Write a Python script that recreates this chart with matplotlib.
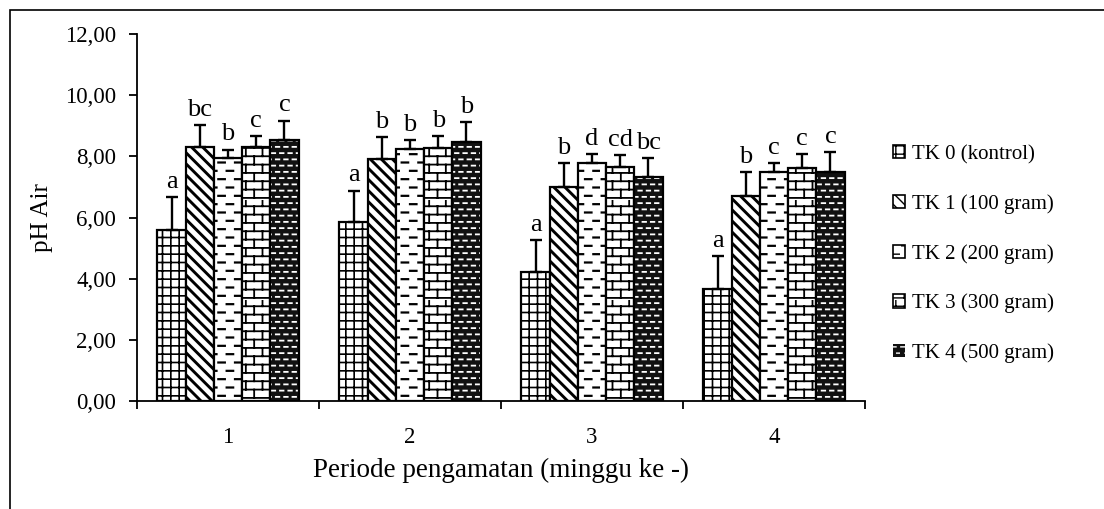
import numpy as np
import matplotlib
matplotlib.use("Agg")
import matplotlib.pyplot as plt
import matplotlib.hatch as mhatch
from matplotlib.path import Path
from matplotlib.patches import Rectangle, Patch

# ---------------- data ----------------
weeks = ["1", "2", "3", "4"]
series_names = ["TK 0 (kontrol)", "TK 1 (100 gram)", "TK 2 (200 gram)",
                "TK 3 (300 gram)", "TK 4 (500 gram)"]
tk0 = [5.60, 5.84, 4.23, 3.67]
tk1 = [8.31, 7.90, 7.01, 6.71]
tk2 = [7.95, 8.23, 7.77, 7.49]
tk3 = [8.32, 8.28, 7.65, 7.62]
tk4 = [8.52, 8.46, 7.31, 7.50]
err0 = [1.06, 1.04, 1.03, 1.06]
err1 = [0.72, 0.74, 0.76, 0.78]
err2 = [0.27, 0.31, 0.31, 0.29]
err3 = [0.35, 0.38, 0.38, 0.44]
err4 = [0.65, 0.65, 0.62, 0.65]
let0 = ["a", "a", "a", "a"]
let1 = ["bc", "b", "b", "b"]
let2 = ["b", "b", "d", "c"]
let3 = ["c", "b", "cd", "c"]
let4 = ["c", "b", "bc", "c"]
y_ticks = [0, 2, 4, 6, 8, 10, 12]

values = [tk0, tk1, tk2, tk3, tk4]
errors = [err0, err1, err2, err3, err4]
letters = [let0, let1, let2, let3, let4]


# ---------------- custom hatch patterns ----------------
def _dash_rows(rows, per_row, length):
    segs = []
    for r in range(rows):
        y = (r + 0.5) / rows
        off = 0.5 * (r % 2)
        for j in range(per_row):
            x0 = (j + off) / per_row + 0.1 / per_row
            segs.append((x0, y, x0 + length, y))
    return segs


def _bricks(rows, per_row):
    segs = []
    for r in range(rows):
        y0 = (r + 0.25) / rows
        y1 = (r + 1.25) / rows
        segs.append((0.0, y0, 1.0, y0))
        off = 0.5 * (r % 2)
        for j in range(per_row):
            x = (j + off + 0.25) / per_row
            segs.append((x, y0, x, min(y1, 1.0)))
    return segs


class CustomHatch(mhatch.HatchPatternBase):
    def __init__(self, hatch, density):
        segs = []
        if 'o' in hatch:      # sparse black dashes (TK2)
            segs += _dash_rows(12, 6, 0.065)
        if 'O' in hatch:      # bricks (TK3)
            segs += _bricks(12, 6)
        if '*' in hatch:      # dense white dashes (TK4)
            segs += _dash_rows(16, 12, 0.035)
        self.segs = segs
        self.num_vertices = 2 * len(segs)

    def set_vertices_and_codes(self, vertices, codes):
        for i, (x0, y0, x1, y1) in enumerate(self.segs):
            vertices[2 * i] = (x0, y0)
            vertices[2 * i + 1] = (x1, y1)
            codes[2 * i] = Path.MOVETO
            codes[2 * i + 1] = Path.LINETO


mhatch._hatch_types = [mhatch.HorizontalHatch, mhatch.VerticalHatch,
                       mhatch.NorthEastHatch, mhatch.SouthEastHatch,
                       CustomHatch]

plt.rcParams['font.family'] = ['Liberation Serif', 'DejaVu Serif']
plt.rcParams['hatch.linewidth'] = 1.0

fig = plt.figure(figsize=(11.04, 5.09), dpi=100)
ax = fig.add_axes([137 / 1104, 1 - 401 / 509, (865 - 137) / 1104, (401 - 34) / 509])

styles = [
    dict(face='white', edge='black', hatch='++', hlw=1.2),
    dict(face='white', edge='black', hatch='\\\\\\', hlw=2.1),
    dict(face='white', edge='black', hatch='o', hlw=1.6),
    dict(face='white', edge='black', hatch='O', hlw=1.3),
    dict(face='#111111', edge='white', hatch='*', hlw=1.3),
]

x = np.arange(len(weeks))
n = len(values)
width = 0.155
edge_lw = 1.6
handles = []
for i in range(n):
    st = styles[i]
    pos = x + (i - (n - 1) / 2) * width
    bars = ax.bar(pos, values[i], width, color=st['face'], edgecolor=st['edge'],
                  hatch=st['hatch'], linewidth=0 if st['edge'] == 'white' else edge_lw,
                  zorder=2)
    for b in bars:
        if hasattr(b, 'set_hatch_linewidth'):
            b.set_hatch_linewidth(st['hlw'])
    if st['edge'] == 'white':
        ax.bar(pos, values[i], width, fill=False, edgecolor='black', linewidth=edge_lw, zorder=3)
    ax.errorbar(pos, values[i], yerr=[np.zeros(len(weeks)), errors[i]], fmt='none',
                ecolor='black', elinewidth=1.7, capsize=4, capthick=1.7, zorder=4)
    for xi, v, e, t in zip(pos, values[i], errors[i], letters[i]):
        ax.annotate(t, (xi, v + e), xytext=(0, 3), textcoords='offset points',
                    ha='center', va='bottom', fontsize=19)
    hp = Patch(facecolor=st['face'], edgecolor=st['edge'], hatch=st['hatch'],
               linewidth=0 if st['edge'] == 'white' else 1.2)
    if hasattr(hp, 'set_hatch_linewidth'):
        hp.set_hatch_linewidth(st['hlw'])
    handles.append(hp)

ax.set_xlim(-0.5, len(weeks) - 0.5)
ax.set_ylim(y_ticks[0], y_ticks[-1])
ax.set_yticks(y_ticks)
ax.set_yticklabels([f"{t:.2f}".replace('.', ',') for t in y_ticks], fontsize=16.5)
ax.set_xticks(np.arange(len(weeks) + 1) - 0.5)
ax.set_xticklabels([])
ax.set_xticks(x, minor=True)
ax.set_xticklabels(weeks, minor=True, fontsize=16.5)
ax.tick_params(axis='x', which='minor', length=0, pad=19)
ax.tick_params(axis='x', which='major', length=6, width=1.3, direction='out')
ax.tick_params(axis='y', length=6, width=1.3, direction='out', pad=9)
for s in ['top', 'right']:
    ax.spines[s].set_visible(False)
for s in ['left', 'bottom']:
    ax.spines[s].set_linewidth(1.3)
ax.set_ylabel("pH Air", fontsize=18, labelpad=9)
ax.set_xlabel("Periode pengamatan (minggu ke -)", fontsize=19.5, labelpad=7)

fig.legend(handles, series_names, loc='center left',
           bbox_to_anchor=(874 / 1104, 1 - 254 / 509), frameon=False,
           fontsize=15, handlelength=0.6, handleheight=0.6, handletextpad=0.3,
           labelspacing=1.44)

fig.patches.append(Rectangle((10 / 1104, -0.1), 1.2, 1.1 - 10 / 509,
                             transform=fig.transFigure, fill=False,
                             edgecolor='black', linewidth=1.2))

fig.savefig("out.png", dpi=100)
